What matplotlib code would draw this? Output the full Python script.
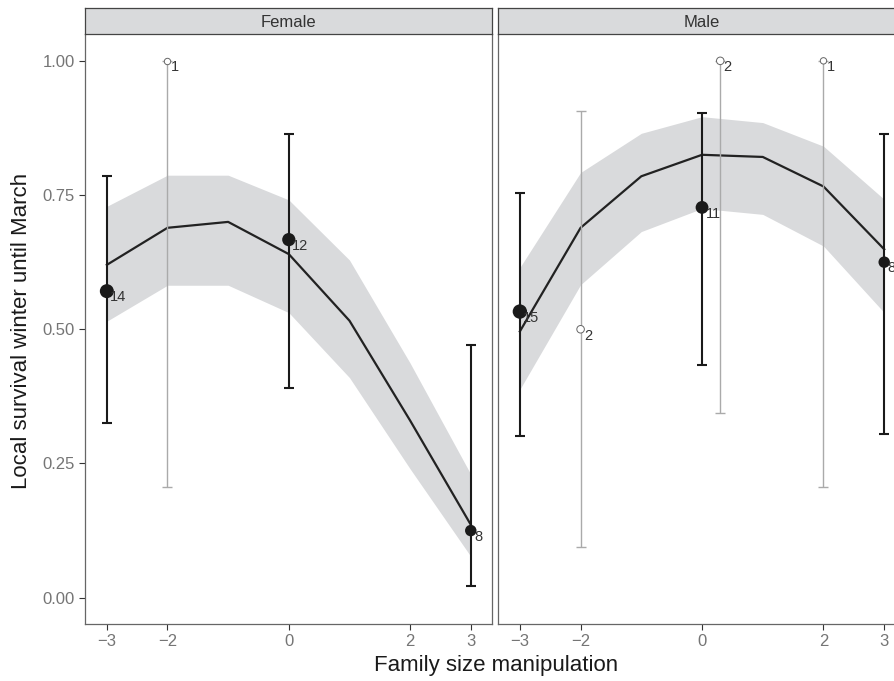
import numpy as np
import matplotlib
matplotlib.use('Agg')
import matplotlib.pyplot as plt

plt.rcParams['font.family'] = ['Liberation Sans', 'DejaVu Sans']

panels = ['Female', 'Male']

# fitted curve + ribbon (same x grid for both sexes)
fit_x = [-3, -2, -1, 0, 1, 2, 3]
fit_f = [0.620, 0.689, 0.700, 0.640, 0.516, 0.330, 0.136]
upr_f = [0.729, 0.787, 0.787, 0.741, 0.629, 0.437, 0.230]
lwr_f = [0.515, 0.582, 0.582, 0.531, 0.410, 0.240, 0.077]
fit_m = [0.496, 0.689, 0.785, 0.825, 0.821, 0.766, 0.649]
upr_m = [0.615, 0.792, 0.865, 0.896, 0.885, 0.841, 0.742]
lwr_m = [0.388, 0.583, 0.682, 0.725, 0.714, 0.655, 0.531]

# observed means, black = main group, grey = small group
obs_f_x = [-3, 0, 3]
obs_f_y = [0.571, 0.667, 0.125]
obs_f_lo = [0.326, 0.391, 0.022]
obs_f_hi = [0.786, 0.863, 0.471]
obs_f_n = [14, 12, 8]
grey_f_x = [-2]
grey_f_y = [1.0]
grey_f_lo = [0.207]
grey_f_hi = [1.0]
grey_f_n = [1]

obs_m_x = [-3, 0, 3]
obs_m_y = [0.533, 0.727, 0.625]
obs_m_lo = [0.302, 0.434, 0.305]
obs_m_hi = [0.753, 0.903, 0.863]
obs_m_n = [15, 11, 8]
grey_m_x = [-2, 0.3, 2]
grey_m_y = [0.5, 1.0, 1.0]
grey_m_lo = [0.095, 0.344, 0.207]
grey_m_hi = [0.907, 1.0, 1.0]
grey_m_n = [2, 2, 1]

xticks = [-3, -2, 0, 2, 3]
xtlabels = ['\u22123', '\u22122', '0', '2', '3']
yticks = [0, 0.25, 0.5, 0.75, 1.0]
ytlabels = ['0.00', '0.25', '0.50', '0.75', '1.00']

fig = plt.figure(figsize=(8.95, 6.81), dpi=100)
W, H = 895., 681.
ax_f = fig.add_axes([85/W, 1-624/H, (492-85)/W, (624-34)/H])
ax_m = fig.add_axes([498/W, 1-624/H, (900-498)/W, (624-34)/H])

def msize(ns):
    return [(2.6 + 2.0*np.sqrt(n))**2 for n in ns]

def draw(ax, fx, fy, up, lo, ox, oy, olo, ohi, on, gx, gy, glo, ghi, gn):
    ax.fill_between(fx, lo, up, color='#d9dadc', lw=0, zorder=1)
    ax.plot(fx, fy, color='#222222', lw=1.6, zorder=2)
    ax.errorbar(gx, gy, yerr=[np.array(gy)-np.array(glo), np.array(ghi)-np.array(gy)],
                fmt='none', ecolor='#aaaaaa', elinewidth=1.0, capsize=3.5, capthick=1.0, zorder=3)
    ax.errorbar(ox, oy, yerr=[np.array(oy)-np.array(olo), np.array(ohi)-np.array(oy)],
                fmt='none', ecolor='#1a1a1a', elinewidth=1.5, capsize=3.5, capthick=1.5, zorder=4)
    ax.scatter(gx, gy, s=msize(gn), facecolor='white', edgecolor='#666666',
               lw=0.7, zorder=5)
    ax.scatter(ox, oy, s=msize(on), color='#1a1a1a', lw=0, zorder=6)
    for x, y, n in list(zip(ox, oy, on)) + list(zip(gx, gy, gn)):
        ax.annotate(str(n), (x, y), xytext=(2.5, -4.5), textcoords='offset points',
                    ha='left', va='center', fontsize=10.5, color='#333333', zorder=7)

draw(ax_f, fit_x, fit_f, upr_f, lwr_f, obs_f_x, obs_f_y, obs_f_lo, obs_f_hi, obs_f_n,
     grey_f_x, grey_f_y, grey_f_lo, grey_f_hi, grey_f_n)
draw(ax_m, fit_x, fit_m, upr_m, lwr_m, obs_m_x, obs_m_y, obs_m_lo, obs_m_hi, obs_m_n,
     grey_m_x, grey_m_y, grey_m_lo, grey_m_hi, grey_m_n)

ax_f.set_xlim(-3.36, 3.35)
ax_m.set_xlim(-3.36, 3.26)
for ax in (ax_f, ax_m):
    ax.set_ylim(-0.049, 1.05)
    ax.set_xticks(xticks)
    ax.set_xticklabels(xtlabels)
    ax.tick_params(axis='x', length=4, width=0.8, color='#333333', labelcolor='#757575',
                   labelsize=12, pad=3)
    ax.spines['top'].set_visible(False)
    for s in ('left', 'bottom', 'right'):
        ax.spines[s].set_color('#666666')
        ax.spines[s].set_linewidth(0.9)
    ax.set_facecolor('white')

ax_f.set_yticks(yticks)
ax_f.set_yticklabels(ytlabels)
ax_f.tick_params(axis='y', length=4, width=0.8, color='#333333', labelcolor='#757575',
                 labelsize=12)
ax_m.set_yticks([])
ax_m.spines['right'].set_visible(False)

# facet strips
for ax, name in zip((ax_f, ax_m), panels):
    pos = ax.get_position()
    sax = fig.add_axes([pos.x0, 1-34/H, pos.width, 26/H])
    sax.set_facecolor('#d9dadc')
    sax.set_xticks([])
    sax.set_yticks([])
    for s in sax.spines.values():
        s.set_color('#444444')
        s.set_linewidth(0.9)
    sax.text(0.5 if name == 'Female' else (702-498)/(900-498), 0.45, name, ha='center',
             va='center', fontsize=12, color='#333333', transform=sax.transAxes)

fig.text(22/W, 1-331/H, 'Local survival winter until March', rotation=90, ha='center',
         va='center', fontsize=16, color='#1a1a1a')
fig.text(496/W, 1-665/H, 'Family size manipulation', ha='center', va='center',
         fontsize=16, color='#1a1a1a')

fig.savefig('out.png', dpi=100)
